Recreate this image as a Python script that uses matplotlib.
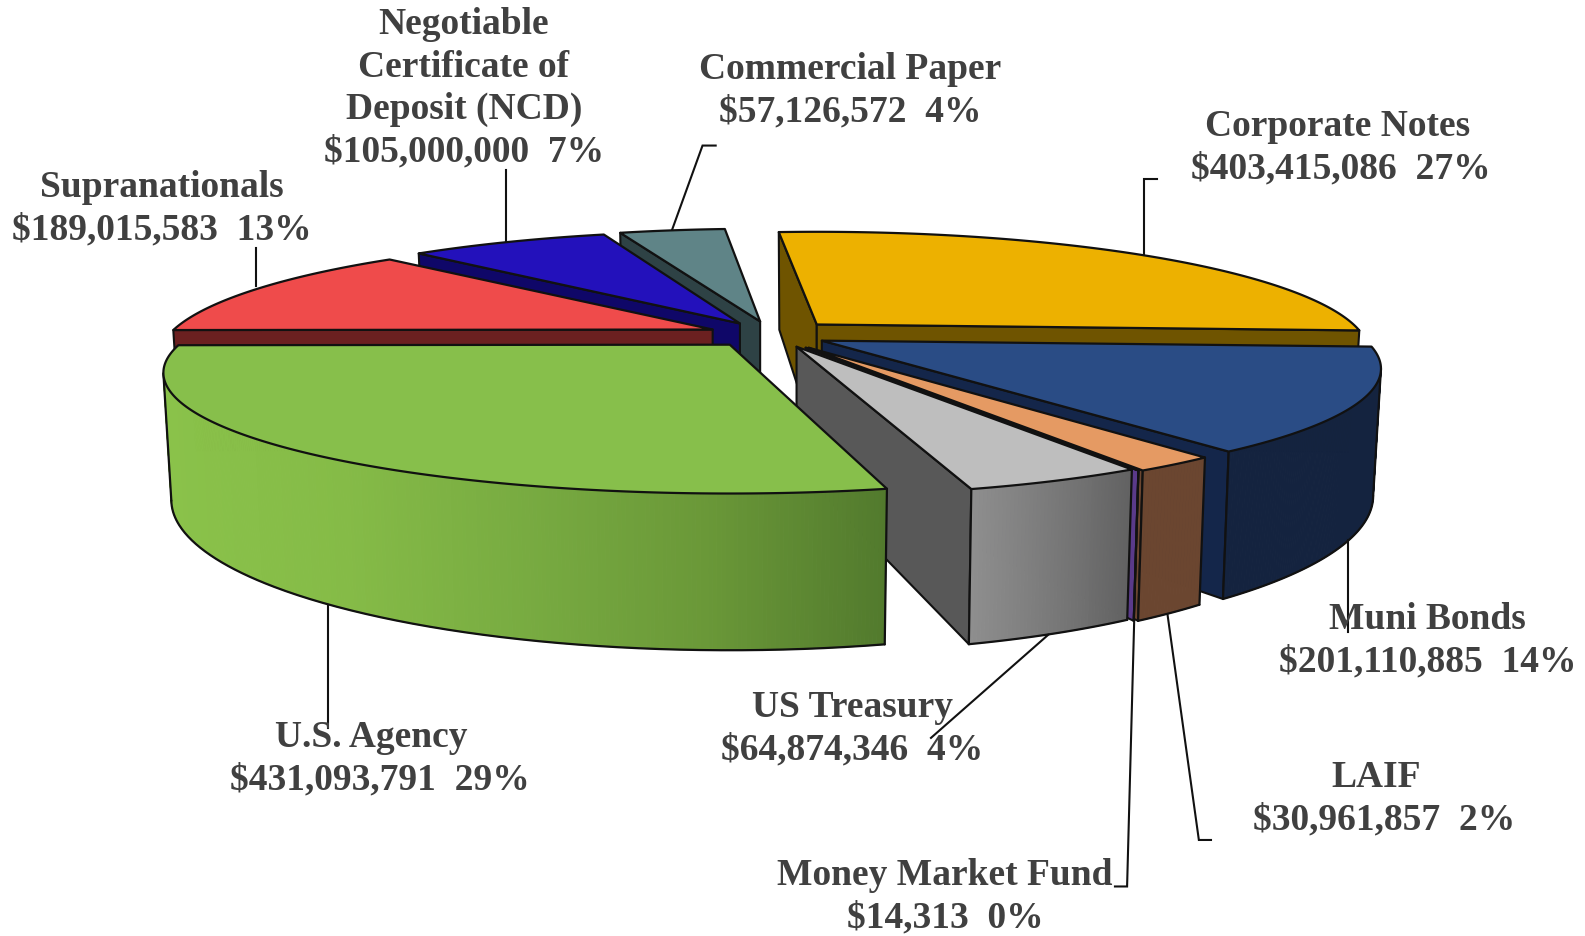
import numpy as np
import matplotlib
matplotlib.use("Agg")
import matplotlib.pyplot as plt
from matplotlib.colors import to_rgb

# ---- data (clockwise, starting with Corporate Notes) ----
names = ["Corporate Notes", "Muni Bonds", "LAIF", "Money Market Fund", "US Treasury",
         "U.S. Agency", "Supranationals", "Negotiable\nCertificate of\nDeposit (NCD)", "Commercial Paper"]
values = [403415086, 201110885, 30961857, 14313, 64874346,
          431093791, 189015583, 105000000, 57126572]

# ---- styles ----
top_colors = ["#EDB100", "#2A4C85", "#E59A63", "#1E1040", "#BEBEBE", "#87BF4B", "#EF4B4B", "#2311BB", "#5F8487"]
cut_colors = ["#6F5400", "#14264A", "#6B4630", "#5A3A8A", "#585858", "#527A2D", "#6B2020", "#0F0768", "#2E4245"]
outer_stops = [["#6F5400"], ["#14233F"], ["#6B4630"], ["#5A3A8A"], ["#8E8E8E", "#7A7A7A", "#626262"],
               ["#8AC24A", "#85BB47", "#78AB41", "#6A9838", "#527A2D"], ["#6B2020"], ["#0F0768"], ["#2E4245"]]

# ---- layout in the 1568x926 frame ----
apex = [(808, 321), (813, 337), (800, 344), (797, 344), (788, 343), (722, 341), (705, 326), (732, 320), (752, 318)]
radius = [531, 538, 518, 516, 520, 545, 533, 530, 525]
start_nudge = [0, 0, 0, 0, 0, 2.2, 0, 0, 0.1]
end_nudge = [0, 0.6, 0, 0, 0, 0, 0, 0.8, 0.3]
start_deg = -5.0
PERSP = 4.3      # camera distance / radius
KR = 113.0       # vertical half-axis before perspective
DEPTH = 119.0
ZS = 0.986       # lower rim converges slightly

label_pos = [(1326, 144), (1412, 631), (1369, 788), (935, 885), (843, 718),
             (376, 748), (160, 204), (459, 85), (841, 87)]
name_dx = [-3, 0, -8, 0, 0, -9, 0, 0, 0]
LINE = 42
leaders = [[(1145, 177), (1132, 177), (1132, 252)],
           [(1334, 534), (1334, 625)],
           [(1155, 608), (1186, 831), (1198, 831)],
           [(1122, 615), (1115, 877), (1103, 877)],
           [(1037, 628), (921, 730)],
           [(324, 600), (324, 720)],
           [(253, 283), (253, 245)],
           [(501, 238), (501, 168)],
           [(665, 227), (695, 144), (708, 144)]]

plt.rcParams["font.family"] = ["Liberation Serif", "DejaVu Serif"]
fig = plt.figure(figsize=(15.85, 9.36), dpi=100)
ax = fig.add_axes([0, 0, 1, 1])
ax.set_xlim(0, 1568)
ax.set_ylim(926, 0)
ax.axis("off")

total = sum(values)
spans = [v / total * 360 for v in values]
bounds = start_deg + np.concatenate([[0], np.cumsum(spans)])


def project(i, theta, rho=1.0, z=0.0):
    """theta clockwise from the back of the pie, rho radial fraction, z 0..1 downward."""
    t = np.radians(theta)
    X, Y = rho * np.sin(t), rho * np.cos(t)
    s = PERSP / (PERSP + Y)
    ax0, ay0 = apex[i]
    sx = ax0 + radius[i] * X * s * (1 - (1 - ZS) * z)
    sy = ay0 - KR * Y * s + DEPTH * z * s
    return sx, sy


def mix(stops, f):
    cols = np.array([to_rgb(c) for c in stops])
    if len(cols) == 1:
        return tuple(cols[0])
    p = np.clip(f, 0, 1) * (len(cols) - 1)
    j = min(int(p), len(cols) - 2)
    return tuple(cols[j] + (cols[j + 1] - cols[j]) * (p - j))


EDGE = dict(color="#111111", lw=1.6, solid_joinstyle="round", solid_capstyle="round")


def radial_face(i, theta, z_order):
    pts = [project(i, theta, 0, 0), project(i, theta, 1, 0), project(i, theta, 1, 1), project(i, theta, 0, 1)]
    xs, ys = zip(*pts)
    ax.fill(xs, ys, fc=cut_colors[i], ec="#111111", lw=1.5, zorder=z_order, joinstyle="round")


def draw_slice(i, z_order):
    a0, a1 = bounds[i] + start_nudge[i], bounds[i + 1] + end_nudge[i]
    # only the cut faces turned towards the camera
    if np.sin(np.radians(a0)) < 0:
        radial_face(i, a0, z_order)
    if np.sin(np.radians(a1)) > 0:
        radial_face(i, a1, z_order)
    # outer rim, only the part turned towards the camera
    th = np.linspace(a0, a1, max(int(a1 - a0) * 3, 3))
    limit = -1.0 / PERSP
    vis = th[np.cos(np.radians(th)) < limit]
    if len(vis) > 1:
        xs_all = [project(i, t, 1, 0)[0] for t in vis]
        x0, x1 = min(xs_all), max(xs_all)
        for t0, t1 in zip(vis[:-1], vis[1:]):
            p = [project(i, t0, 1, 0), project(i, t1, 1, 0), project(i, t1, 1, 1), project(i, t0, 1, 1)]
            xs, ys = zip(*p)
            f = ((xs[0] + xs[1]) / 2 - x0) / max(x1 - x0, 1e-6)
            c = mix(outer_stops[i], f)
            ax.fill(xs, ys, fc=c, ec=c, lw=0.8, zorder=z_order)
        low = [project(i, t, 1, 1) for t in vis]
        ax.plot(*zip(*low), zorder=z_order, **EDGE)
        for t in (vis[0], vis[-1]):
            ax.plot(*zip(project(i, t, 1, 0), project(i, t, 1, 1)), zorder=z_order, **EDGE)
    # top
    arc = [project(i, t, 1, 0) for t in th]
    pts = [project(i, a0, 0, 0)] + arc
    xs, ys = zip(*pts)
    ax.fill(xs, ys, fc=top_colors[i], ec="#111111", lw=1.6, zorder=z_order, joinstyle="round")


paint_order = [8, 7, 6, 0, 1, 2, 3, 4, 5]
for n, i in enumerate(paint_order):
    draw_slice(i, 2 + n * 0.1)

for path in leaders:
    ax.plot(*zip(*path), color="#111111", lw=1.5, zorder=5, solid_joinstyle="miter")

TXT = dict(ha="center", va="baseline", fontsize=27, fontweight="bold", color="#404040", zorder=6)
for name, v, (x, y), dx in zip(names, values, label_pos, name_dx):
    lines = name.split("\n")
    value_line = f"${v:,}  {round(v / total * 100)}%"
    n = len(lines) + 1
    y0 = y - (n - 1) / 2 * LINE + 12
    for k, s in enumerate(lines):
        ax.text(x + dx, y0 + k * LINE, s, **TXT)
    ax.text(x, y0 + len(lines) * LINE, value_line, **TXT)

fig.savefig("out.png", dpi=100, facecolor="white")
